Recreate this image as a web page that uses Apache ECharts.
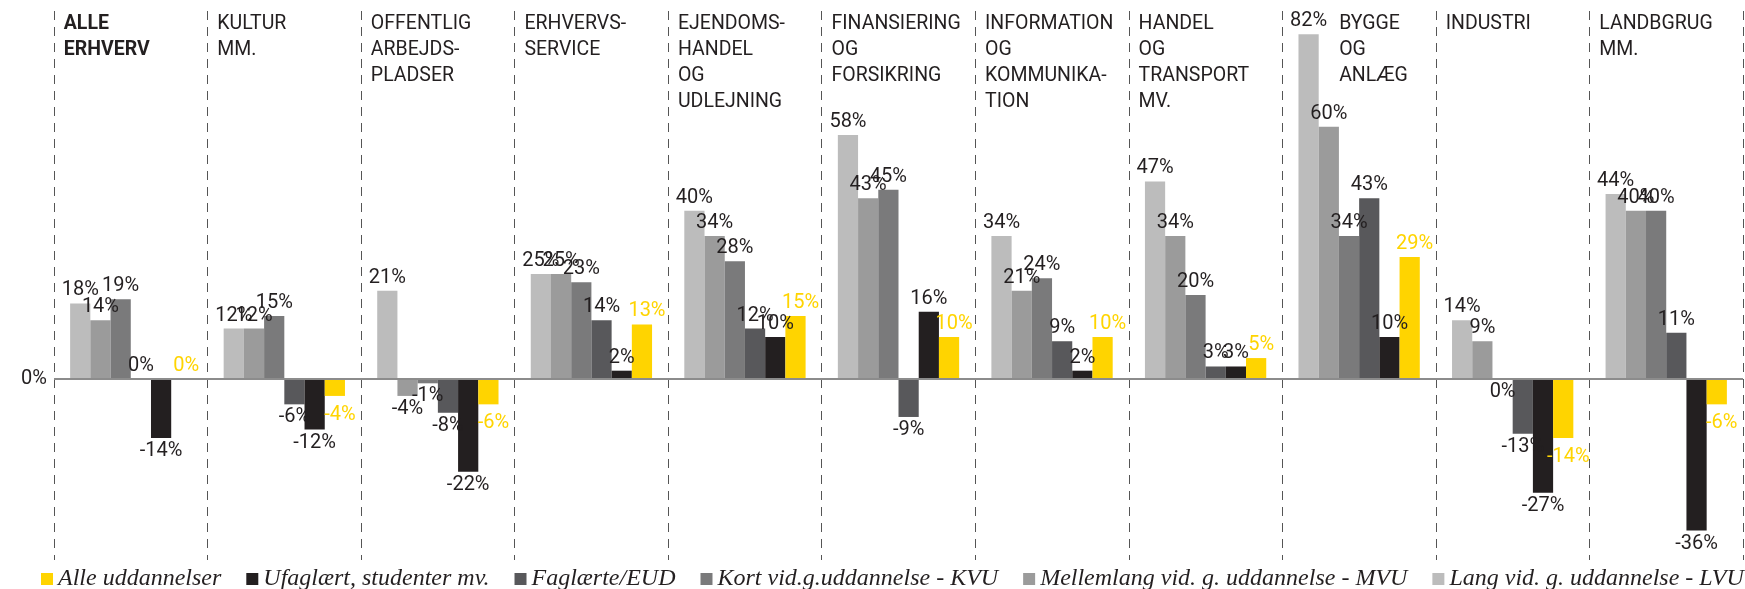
<!DOCTYPE html>
<html>
<head>
<meta charset="utf-8">
<title>Beskæftigelse efter erhverv og uddannelse</title>
<script src="https://cdn.jsdelivr.net/npm/echarts@6.0.0/dist/echarts.min.js"></script>
<style>
  html, body { margin: 0; padding: 0; background: #fff; }
  #chart { width: 1745px; height: 589px; }
</style>
</head>
<body>
<div id="chart"></div>
<script>
// Sector headings (one entry per group)
const categories = [
  'ALLE\nERHVERV',
  'KULTUR\nMM.',
  'OFFENTLIG\nARBEJDS-\nPLADSER',
  'ERHVERVS-\nSERVICE',
  'EJENDOMS-\nHANDEL\nOG\nUDLEJNING',
  'FINANSIERING\nOG\nFORSIKRING',
  'INFORMATION\nOG\nKOMMUNIKA-\nTION',
  'HANDEL\nOG\nTRANSPORT\nMV.',
  'BYGGE\nOG\nANLÆG',
  'INDUSTRI',
  'LANDBGRUG\nMM.'
];

// Change in percent per education level
const lvu  = [18, 12, 21, 25, 40, 58, 34, 47, 82, 14, 44];
const mvu  = [14, 12, -4, 25, 34, 43, 21, 34, 60,  9, 40];
const kvu  = [19, 15, -1, 23, 28, 45, 24, 20, 34,  0, 40];
const eud  = [ 0, -6, -8, 14, 12, -9,  9,  3, 43, -13, 11];
const ufag = [-14, -12, -22, 2, 10, 16, 2, 3, 10, -27, -36];
const alle = [ 0, -4, -6, 13, 15, 10, 10, 5, 29, -14, -6];

const seriesNames = {
  alle: 'Alle uddannelser',
  ufag: 'Ufaglært, studenter mv.',
  eud:  'Faglærte/EUD',
  kvu:  'Kort vid.g.uddannelse - KVU',
  mvu:  'Mellemlang vid. g. uddannelse - MVU',
  lvu:  'Lang vid. g. uddannelse - LVU'
};

const seriesValues = { lvu, mvu, kvu, eud, ufag, alle };

const colors = {
  lvu: '#bcbcbc',
  mvu: '#9b9b9b',
  kvu: '#7a7a7b',
  eud: '#58585b',
  ufag: '#231f20',
  alle: '#ffd400'
};

const labelFont = 'Roboto, "Liberation Sans", sans-serif';
const darkText = '#231f20';

// zero values in this sector get their label under the axis
const zeroLabelBelow = new Set(['INDUSTRI']);

function buildData(values, extraOffset) {
  return values.map((v, i) => {
    const below = v < 0 || (v === 0 && zeroLabelBelow.has(categories[i]));
    return {
      value: v,
      label: {
        position: below ? 'bottom' : 'top',
        offset: below ? [extraOffset[0], extraOffset[1]] : [extraOffset[0], 0]
      }
    };
  });
}

function barSeries(key, labelColor, extraOffset) {
  return {
    name: seriesNames[key],
    type: 'bar',
    barGap: '0%',
    barCategoryGap: '21%',
    itemStyle: { color: colors[key] },
    label: {
      show: true,
      formatter: p => p.value + '%',
      color: labelColor,
      fontFamily: labelFont,
      fontSize: 20,
      distance: 3
    },
    data: buildData(seriesValues[key], extraOffset)
  };
}

const chart = echarts.init(document.getElementById('chart'), null, { renderer: 'canvas' });

const series = [
  barSeries('lvu', darkText, [0, 0]),
  barSeries('mvu', darkText, [0, 0]),
  barSeries('kvu', darkText, [0, 0]),
  barSeries('eud', darkText, [0, 0]),
  barSeries('ufag', darkText, [0, 0]),
  barSeries('alle', '#ffd400', [5, 6])
];

// zero line across the whole plot
series[0].markLine = {
  silent: true,
  symbol: 'none',
  label: { show: false },
  lineStyle: { color: '#8c8c8c', width: 2, type: 'solid' },
  data: [{ yAxis: 0 }]
};

const option = {
  animation: false,
  backgroundColor: '#ffffff',
  grid: { left: 54, right: 2, top: 11, bottom: 29, containLabel: false },
  legend: {
    left: 36,
    top: 562,
    width: 1900,
    icon: 'rect',
    itemWidth: 12,
    itemHeight: 12,
    itemGap: 25,
    data: [seriesNames.alle, seriesNames.ufag, seriesNames.eud, seriesNames.kvu, seriesNames.mvu, seriesNames.lvu],
    textStyle: {
      fontFamily: '"Liberation Serif", "DejaVu Serif", serif',
      fontStyle: 'italic',
      fontSize: 24,
      color: darkText
    }
  },
  xAxis: {
    type: 'category',
    position: 'top',
    data: categories,
    boundaryGap: true,
    axisLine: { show: false },
    axisTick: { show: false },
    splitLine: {
      show: true,
      lineStyle: { color: '#555555', width: 1, type: [9, 7] }
    },
    axisLabel: {
      inside: true,
      margin: 0,
      interval: 0,
      align: 'center',
      verticalAlign: 'top',
      width: 134,
      overflow: 'none',
      formatter: (value) => {
        const style = value.startsWith('ALLE') ? 'b' : value.startsWith('BYGGE') ? 'p' : 'h';
        return value.split('\n').map(l => '{' + style + '|' + l + '}').join('\n');
      },
      rich: {
        h: { align: 'left', fontFamily: labelFont, fontSize: 19.5, lineHeight: 26, color: darkText },
        b: { align: 'left', fontFamily: labelFont, fontSize: 19.5, lineHeight: 26, color: darkText, fontWeight: 'bold' },
        p: { align: 'left', fontFamily: labelFont, fontSize: 19.5, lineHeight: 26, color: darkText, padding: [0, 0, 0, 47] }
      }
    }
  },
  yAxis: {
    type: 'value',
    min: -43,
    max: 87.5,
    interval: 43,
    axisLine: { show: false },
    axisTick: { show: false },
    splitLine: { show: false },
    axisLabel: {
      margin: 7,
      fontFamily: labelFont,
      fontSize: 20,
      color: darkText,
      showMaxLabel: false,
      formatter: v => (v === 0 ? '0%' : '')
    }
  },
  series
};

chart.setOption(option);
</script>
</body>
</html>
